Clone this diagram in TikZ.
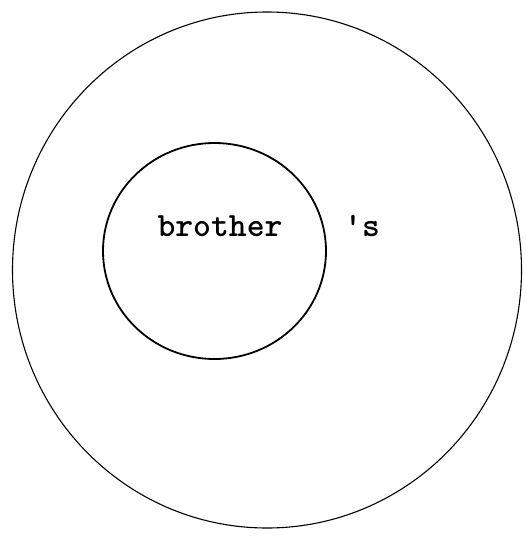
\documentclass[tikz,border=0pt]{standalone}
\usepackage{tikz}

\begin{document}
\begin{tikzpicture}[x=1pt,y=-1pt]
\useasboundingbox (0,0) rectangle (526,539);
% objects at depth 100:
\path[draw=black,line width=1.1pt] (267,270) ellipse (254.5 and 258);
\path[draw=black,line width=1.8pt] (214.5,251) ellipse (111.5 and 108);
% objects at depth 50:
\node[anchor=base,inner sep=0pt,font=\ttfamily\bfseries\fontsize{34}{40}\selectfont] (brother) at (220,236) {brother};
\node[anchor=base,inner sep=0pt,font=\ttfamily\bfseries\fontsize{34}{40}\selectfont] (poss) at (362,236) {'s};
\end{tikzpicture}
\end{document}
